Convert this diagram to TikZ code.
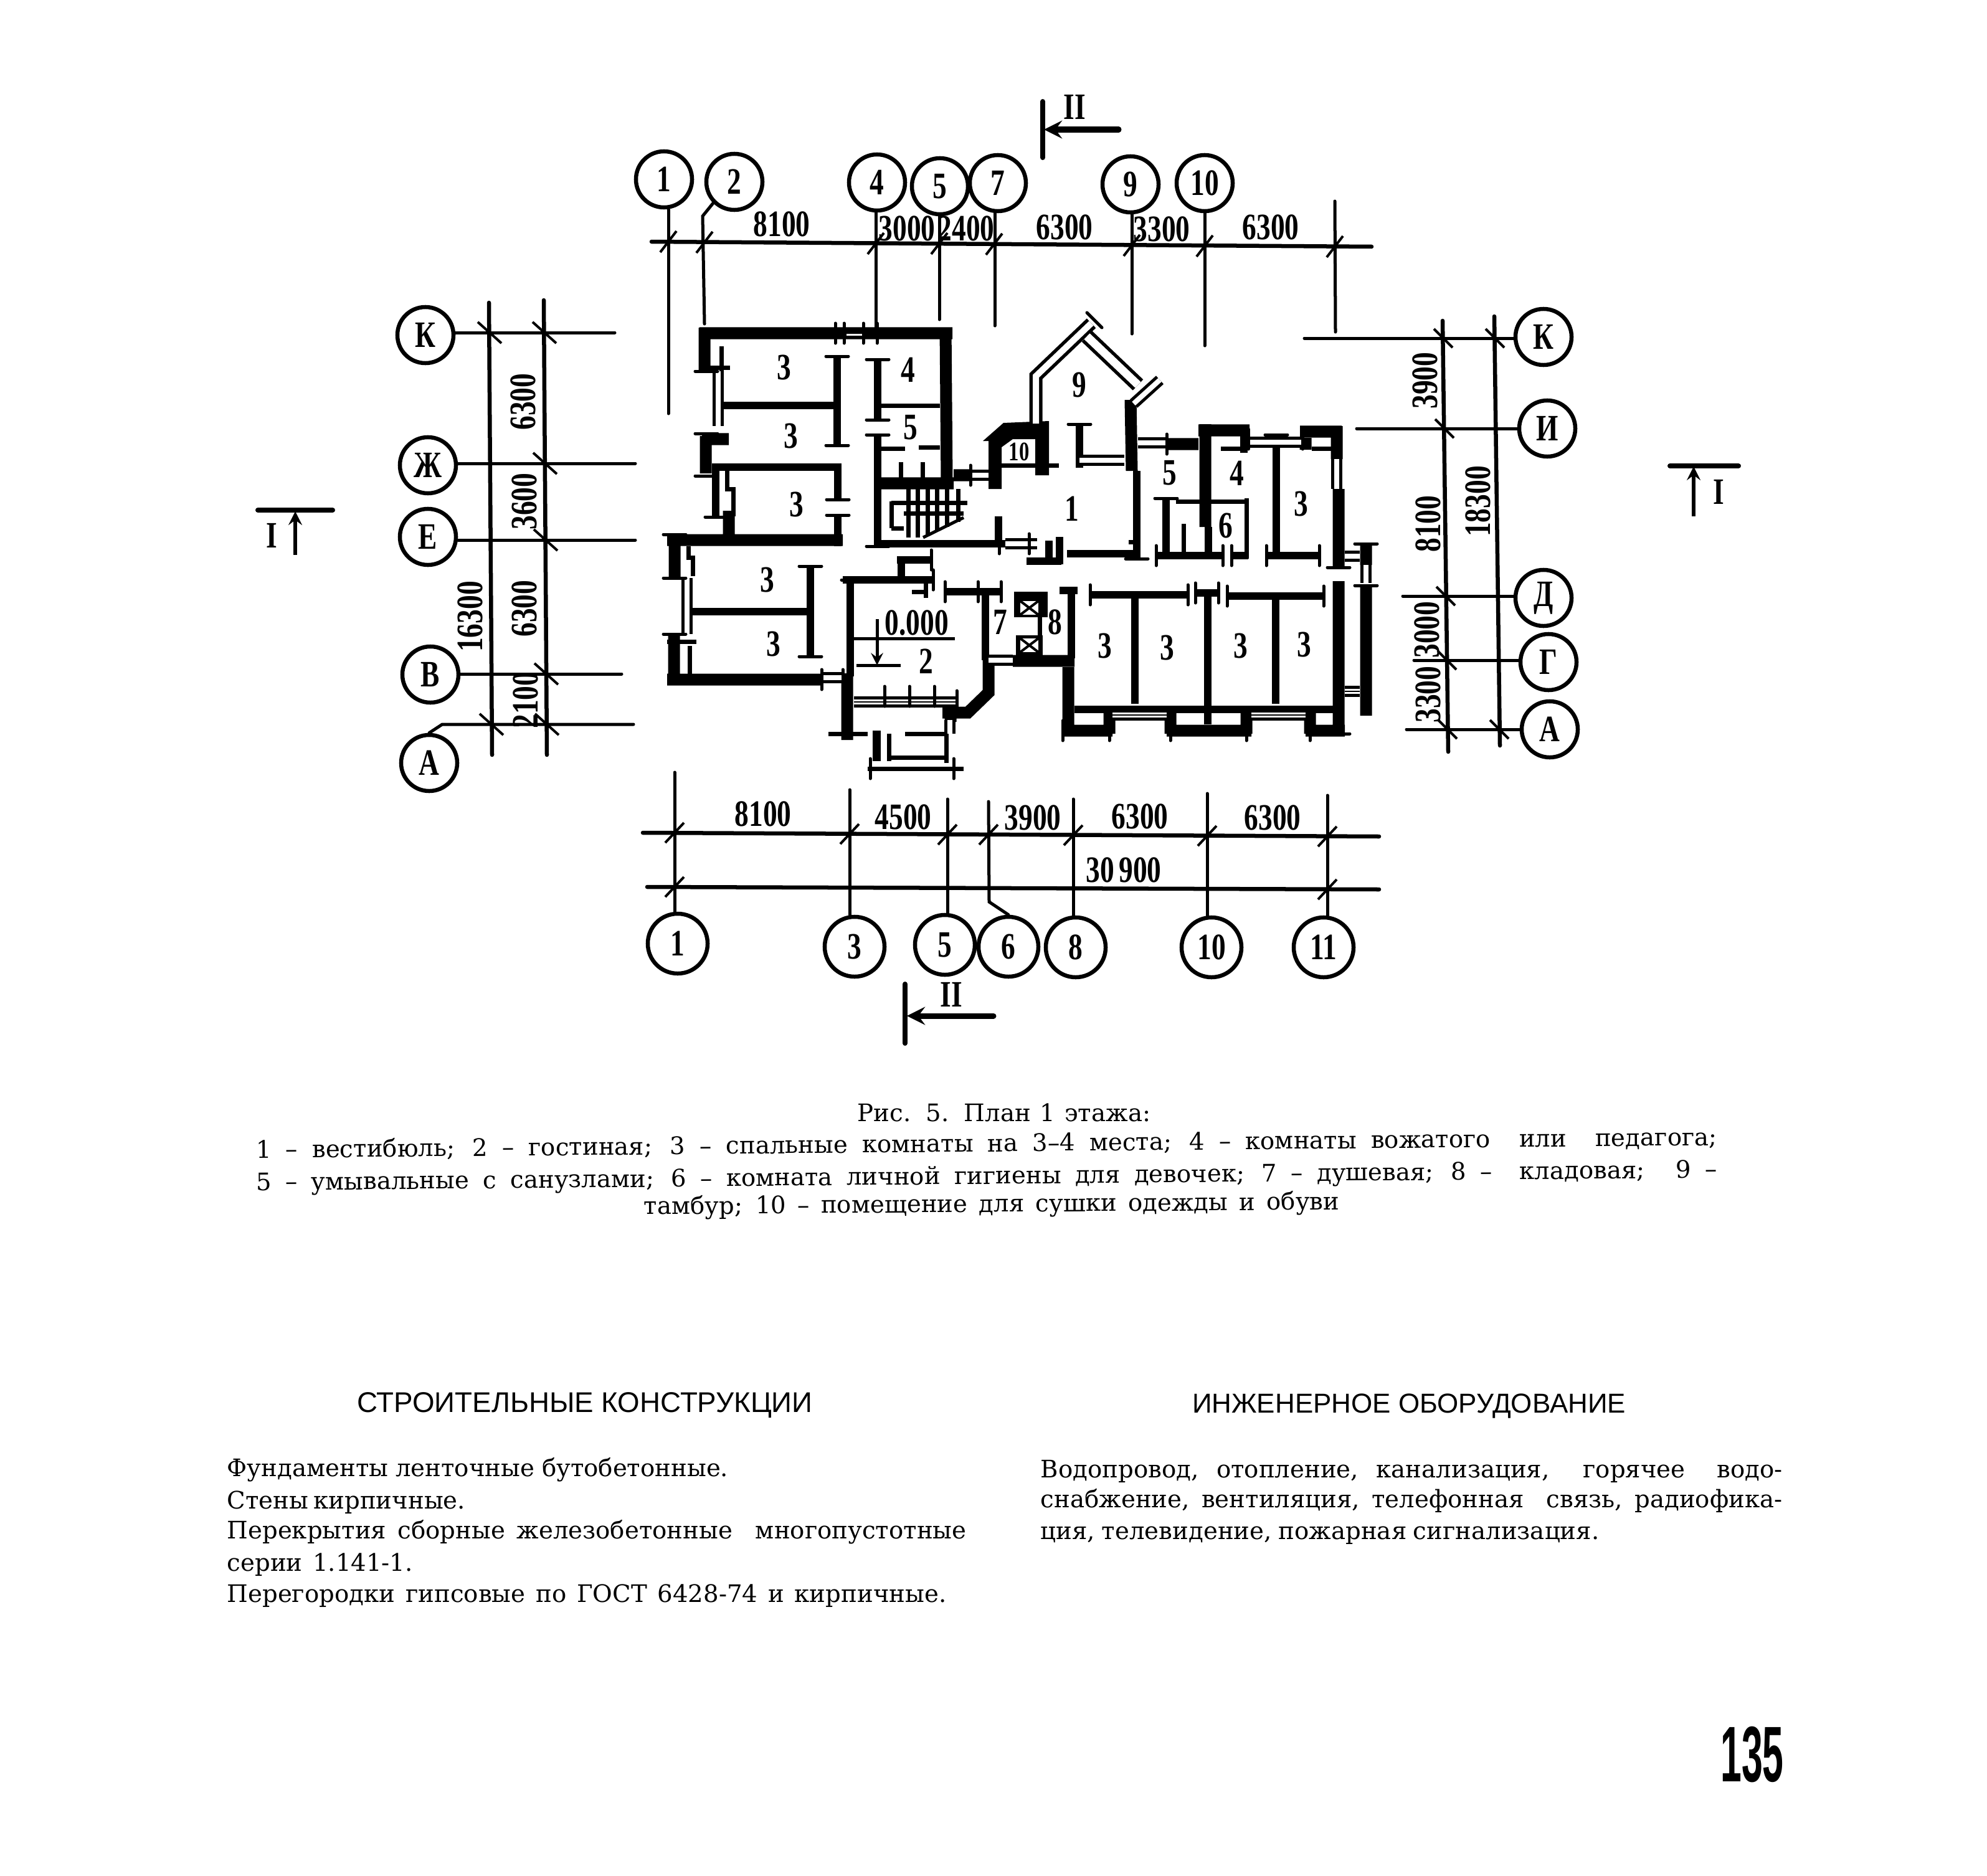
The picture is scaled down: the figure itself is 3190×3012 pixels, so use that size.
\documentclass[tikz,border=0pt]{standalone}
\usepackage{fontspec}
\setmainfont{DejaVu Serif}
\newfontfamily\numfont{Liberation Serif}
\newfontfamily\headfont{Liberation Sans}
\usepackage{tikz}
\usetikzlibrary{arrows,positioning}
\newcommand\nn[1]{\scalebox{0.76}[1]{\numfont\bfseries\fontsize{17}{17}\selectfont #1}}
\tikzset{axisnode/.style={circle,draw=black,line width=0.065cm,minimum size=0.9cm,inner sep=0pt}}
\tikzset{numlabel/.style={inner sep=0pt}}
\tikzset{dimline/.style={line width=0.065cm,line cap=round}}
\tikzset{extline/.style={line width=0.05cm,line cap=round}}
\tikzset{ticklin/.style={line width=0.04cm}}
\tikzset{sectline/.style={line width=0.08cm,line cap=round}}
\tikzset{sectarrow/.style={line width=0.09cm,<-,>=stealth}}
\tikzset{wall/.style={line width=0.19cm}}
\tikzset{parti/.style={line width=0.115cm}}
\tikzset{thinpart/.style={line width=0.07cm}}
\tikzset{serif/.style={line width=0.05cm,line cap=round}}
\tikzset{win/.style={line width=0.05cm,double=white,double distance=0.08cm}}
\tikzset{capline/.style={anchor=base,inner sep=0pt,font=\fontsize{11}{12}\selectfont}}
\tikzset{bodyline/.style={anchor=base west,inner sep=0pt,font=\fontsize{11}{12}\selectfont}}
\tikzset{headline/.style={inner sep=0pt,font=\headfont\fontsize{12.5}{13}\selectfont}}
\begin{document}
\begin{tikzpicture}[x=0.01cm,y=-0.01cm]
\useasboundingbox (0,0) rectangle (3190,3012);
% top axes
\foreach \ii/\xa/\ya/\xb/\yb in {1/1066/288/1073/664,4/1408/293/1406/525,5/1509/299/1508/513,7/1602/294/1597/523,9/1815/296/1817/536,10/1934/294/1934/555} {
	\node[axisnode] (top\ii) at (\xa,\ya) {\nn{\ii}};
	\coordinate (topend\ii) at (\xb,\yb);
	\draw[extline] (topend\ii) -- (topend\ii |- top\ii.south);
}
\node[axisnode] (top2) at (1179,292) {\nn{2}};
\coordinate (topend2) at (1131,520);
\draw[extline] (top2.south west) -- (1128,347) -- (topend2);
\coordinate (topfree) at (2143,323);
\coordinate (topfreeb) at (2144,533);
\draw[extline] (topfree) -- (topfreeb);
\coordinate (topdima) at (1046,388);
\coordinate (topdimb) at (2202,396);
\draw[dimline] (topdima) -- (topdimb);
\foreach \xx/\yy in {1073/388,1131/389,1406/391,1508/391,1596/392,1817/394,1934/395,2143/396}
	\draw[ticklin] (\xx-13,\yy+17) -- (\xx+13,\yy-17);
\foreach \tt/\xx/\yy in {8100/1255/360,3000/1456/367,2400/1551/367,6300/1709/365,3300/1865/368,6300/2040/365}
	\node[numlabel] (topnum\xx) at (\xx,\yy) {\nn{\tt}};
% bottom axes
\foreach \ii/\xa/\ya/\xb/\yb in {1/1088/1515/1083/1240,3/1372/1520/1364/1268,5/1517/1517/1521/1283,8/1727/1521/1723/1283,10/1945/1521/1938/1274,11/2125/1521/2131/1277} {
	\node[axisnode,minimum size=0.96cm] (bot\ii) at (\xa,\ya) {\nn{\ii}};
	\coordinate (botend\ii) at (\xb,\yb);
	\draw[extline] (botend\ii) -- (botend\ii |- bot\ii.north);
}
\node[axisnode,minimum size=0.96cm] (bot6) at (1619,1520) {\nn{6}};
\coordinate (botend6) at (1587,1287);
\draw[extline] (botend6) -- (1588,1448) -- (bot6.north);
\coordinate (botdima) at (1032,1337);
\coordinate (botdimb) at (2214,1343);
\coordinate (botdimc) at (1039,1424);
\coordinate (botdimd) at (2214,1428);
\draw[dimline] (botdima) -- (botdimb);
\draw[dimline] (botdimc) -- (botdimd);
\foreach \xx/\yy in {1083/1337,1364/1339,1521/1340,1587/1340,1723/1341,1938/1342,2131/1343,1083/1424,2131/1428}
	\draw[ticklin] (\xx-15,\yy+16) -- (\xx+15,\yy-16);
\foreach \tt/\xx/\yy in {8100/1225/1307,4500/1450/1312,3900/1658/1313,6300/1830/1311,6300/2043/1313,30\,900/1804/1397}
	\node[numlabel] at (\xx,\yy) {\nn{\tt}};
% left axes
\foreach \ii/\nm/\xa/\ya/\yy/\xb in {К/K/683/538/534/987,Ж/Z/687/747/744/1020,Е/E/687/862/867/1020,В/B/691/1083/1082/998} {
	\node[axisnode] (left\nm) at (\xa,\ya) {\nn{\ii}};
	\coordinate (leftend\nm) at (\xb,\yy);
	\draw[extline] (leftend\nm) -- (leftend\nm -| left\nm.east);
}
\node[axisnode] (leftA) at (689,1225) {\nn{А}};
\coordinate (leftendA) at (1017,1163);
\draw[extline] (leftA.north) -- (710,1163) -- (leftendA);
\coordinate (lefta) at (785,486);
\coordinate (leftb) at (790,1212);
\coordinate (leftc) at (873,482);
\coordinate (leftd) at (878,1212);
\draw[dimline] (lefta) -- (leftb);
\draw[dimline] (leftc) -- (leftd);
\foreach \xx/\yy in {786/534,789/1163,874/534,875/744,876/867,877/1082,878/1163}
	\draw[ticklin] (\xx-19,\yy-17) -- (\xx+19,\yy+17);
\foreach \tt/\xx/\yy in {6300/840/645,3600/842/805,6300/842/977,2100/844/1124,16300/755/990}
	\node[numlabel,rotate=90] at (\xx,\yy) {\nn{\tt}};
% right axes
\foreach \ii/\nm/\xa/\ya/\yy/\xb in {К/K/2478/541/543/2094,И/I/2484/688/688/2178,Д/D/2478/960/957/2252,Г/G/2486/1063/1060/2270,А/A/2488/1171/1171/2258} {
	\node[axisnode] (right\nm) at (\xa,\ya) {\nn{\ii}};
	\coordinate (rightend\nm) at (\xb,\yy);
	\draw[extline] (rightend\nm) -- (rightend\nm -| right\nm.west);
}
\coordinate (righta) at (2316,515);
\coordinate (rightb) at (2325,1207);
\coordinate (rightc) at (2399,508);
\coordinate (rightd) at (2408,1197);
\draw[dimline] (righta) -- (rightb);
\draw[dimline] (rightc) -- (rightd);
\foreach \xx/\yy in {2317/543,2319/688,2321/957,2323/1060,2324/1171,2400/543,2407/1171}
	\draw[ticklin] (\xx-15,\yy-15) -- (\xx+15,\yy+15);
\foreach \tt/\xx/\yy in {3900/2288/611,8100/2293/841,3000/2291/1011,3300/2293/1115,18300/2373/805}
	\node[numlabel,rotate=90] at (\xx,\yy) {\nn{\tt}};
% section marks
\draw[sectline] (1674,163) -- (1674,253);
\draw[sectarrow,line cap=round] (1676,208) -- (1796,208);
\node[numlabel] at (1725,172) {\nn{II}};
\draw[sectline] (1453,1580) -- (1453,1675);
\draw[sectarrow,line cap=round] (1456,1631) -- (1595,1631);
\node[numlabel] at (1527,1597) {\nn{II}};
\draw[sectline] (414,819) -- (534,819);
\draw[line width=0.06cm,<-,>=stealth] (474,821) -- (474,891);
\node[numlabel] at (436,860) {\nn{I}};
\draw[sectline] (2681,748) -- (2791,748);
\draw[line width=0.06cm,<-,>=stealth] (2719,749) -- (2719,829);
\node[numlabel] at (2759,790) {\nn{I}};
% heavy walls
\draw[wall] (1123,535) -- (1529,535) (1518,526) -- (1520,771) (1131,526) -- (1131,596)
	(1127,705) -- (1170,705) (1133,700) -- (1133,760) (1170,820) -- (1170,863)
	(1071,867) -- (1353,867) (1083,858) -- (1083,928) (1082,1018) -- (1082,1100)
	(1071,1091) -- (1319,1091) (1413,776) -- (1531,776) (1531,763) -- (1558,763)
	(1360,1081) -- (1360,1188) (1587,1060) -- (1587,1112) -- (1554,1144) -- (1513,1144)
	(1526,1134) -- (1526,1159) (1815,642) -- (1817,756) (1873,713) -- (1924,713)
	(1924,691) -- (2006,691) (1935,681) -- (1935,846) (2087,693) -- (2154,693)
	(2096,703) -- (2096,722) (2146,684) -- (2146,737) (2149,785) -- (2149,911)
	(2149,933) -- (2149,1178) (2193,873) -- (2193,907) (2193,940) -- (2193,1149)
	(1715,1071) -- (1715,1173) (1626,1061) -- (1725,1061) (1706,1173) -- (1786,1173)
	(1873,1173) -- (2009,1173) (2096,1173) -- (2159,1173) (1781,1134) -- (1781,1178)
	(1879,1134) -- (1879,1178) (2001,1134) -- (2001,1178) (2103,1134) -- (2103,1178);
\fill (1578,708) -- (1611,679) -- (1684,676) -- (1684,763) -- (1662,763) -- (1662,705)
	-- (1626,705) -- (1608,718) -- (1608,785) -- (1587,785) -- (1587,708) -- cycle;
% partitions
\draw[parti] (1149,756) -- (1149,829) (1143,750) -- (1348,750) (1154,651) -- (1344,651)
	(1344,572) -- (1344,715) (1345,744) -- (1345,802) (1345,827) -- (1345,877)
	(1409,577) -- (1409,674) (1409,698) -- (1409,877) (1404,873) -- (1614,873)
	(1112,982) -- (1297,982) (1301,909) -- (1301,1054) (1365,931) -- (1365,1086)
	(1353,931) -- (1498,931) (1447,897) -- (1447,928) (1440,899) -- (1495,899)
	(1517,950) -- (1607,950) (1582,953) -- (1582,1060) (1733,681) -- (1733,751)
	(1603,829) -- (1603,868) (1713,889) -- (1830,889) (1825,756) -- (1825,897)
	(1648,901) -- (1704,901) (1684,868) -- (1684,906) (1701,862) -- (1701,906)
	(1940,846) -- (1940,897) (2049,698) -- (2049,897) (2033,892) -- (2118,892)
	(1856,892) -- (1963,892) (1977,892) -- (2004,892) (1872,800) -- (1872,892)
	(1720,950) -- (1720,1057) (1701,948) -- (1730,948) (1822,960) -- (1822,1130)
	(1939,952) -- (1939,1163) (2048,957) -- (2048,1130) (1750,955) -- (1907,955)
	(1919,952) -- (1956,952) (1970,957) -- (2125,957) (1725,1139) -- (2140,1139)
	(1997,698) -- (1997,727);
\draw[thinpart] (1415,651) -- (1509,651) (1415,720) -- (1453,720) (1475,718) -- (1509,718)
	(1446,742) -- (1446,768) (1481,742) -- (1481,768) (1888,805) -- (2002,805)
	(2001,800) -- (2001,897) (1900,841) -- (1900,892) (1669,989) -- (1669,1020)
	(1486,931) -- (1486,960) (1464,950) -- (1489,950) (1608,747) -- (1700,747)
	(1158,556) -- (1158,600) (1139,590) -- (1172,590) (1167,756) -- (1167,785) -- (1177,785) -- (1177,829)
	(1105,877) -- (1105,895) -- (1112,895) -- (1112,925) (1071,1030) -- (1118,1030)
	(1107,1037) -- (1107,1083) (1404,1173) -- (1404,1222) (1410,1173) -- (1410,1222)
	(1427,1178) -- (1427,1222) (1519,1173) -- (1519,1225) (1393,1234) -- (1547,1234)
	(1330,1178) -- (1393,1178) (1453,1178) -- (1522,1178) (1427,1216) -- (1520,1216)
	(1960,720) -- (2000,720) (2106,720) -- (2140,720) (1812,870) -- (1830,870);
% windows
\draw[win] (1153,596) -- (1153,684);
\draw[win] (1103,928) -- (1103,1018);
\draw[win] (1319,1088) -- (1352,1088);
\draw[win] (1558,763) -- (1587,763);
\draw[win] (1614,873) -- (1665,873);
\draw[win] (1371,1127) -- (1536,1127);
\draw[win] (1827,711) -- (1873,711);
\draw[win] (2004,710) -- (2091,710);
\draw[win] (2146,737) -- (2146,785);
\draw[win] (1733,739) -- (1805,739);
\draw[win] (1587,1060) -- (1626,1060);
\draw[win] (1786,1148) -- (1873,1148);
\draw[win] (2009,1148) -- (2096,1148);
\draw[win] (2159,893) -- (2183,893);
\draw[win] (2159,1110) -- (2183,1110);
\draw[win] (2193,907) -- (2193,936);
\draw[win] (1525,1156) -- (1525,1178);
\draw[win,line width=0.055cm,double distance=0.1cm] (1663,680) -- (1663,604) -- (1752,519);
\draw[win,line width=0.055cm,double distance=0.13cm] (1745,540) -- (1827,618);
\draw[win] (1820,648) -- (1862,610);
\draw[white,line width=0.03cm] (1359,537) -- (1384,537);
\draw[line width=0.025cm] (1371,1127) -- (1536,1127) (1786,1148) -- (1873,1148) (2009,1148) -- (2096,1148) (2159,1110) -- (2183,1110);
% serifs on wall ends
\foreach \xx/\yy in {1344/572,1344/715,1345/802,1345/827,1409/577,1409/674,1409/698,1301/909,1301/1054,1150/830,1083/928,1083/1018,1134/596,1134/696,1134/764,1733/681,1872/800,2049/698,1083/858,1409/877,1825/897,1369/931,2193/873,2193/940,2149/911,2149/1178}
	\draw[serif] (\xx-18,\yy) -- (\xx+18,\yy);
\foreach \xx/\yy in {1341/535,1355/535,1386/535,1408/535,1517/950,1607/950,1570/950,1498/931,1495/899,1750/955,1907/955,1919/952,1956/952,1970/957,2125/957,2033/892,2118/892,1856/892,1963/892,1977/892,1604/873,1652/873,1319/1091,1353/1091,1558/763,2004/705,2091/705,1873/713,1781/1173,1879/1173,2001/1173,2103/1173,1706/1173,1420/1118,1460/1118,1500/1118,1536/1125,1397/1234,1531/1234}
	\draw[serif] (\xx,\yy-16) -- (\xx,\yy+16);
\draw[serif] (1745,502) -- (1769,526);
% stairs
\foreach \xx/\yy in {1458/863,1473/863,1489/860,1504/853,1520/846,1538/838}
	\draw[thinpart] (\xx,785) -- (\xx,\yy);
\draw[thinpart] (1431,807) -- (1553,807) (1431,848) -- (1451,848) (1431,805) -- (1431,848) (1451,824) -- (1547,824);
\draw[line width=0.05cm] (1482,863) -- (1547,831);
% shafts
\fill (1628,950) rectangle (1682,991);
\fill (1631,1020) rectangle (1674,1052);
\foreach \xx/\yy/\xb/\yb in {1638/965/1667/987,1638/1025/1667/1047} {
	\fill[white] (\xx,\yy) rectangle (\xb,\yb);
	\draw[line width=0.04cm] (\xx,\yy) -- (\xb,\yb) (\xx,\yb) -- (\xb,\yy);
}
% level mark
\draw[line width=0.05cm] (1371,1025) -- (1533,1025) (1375,1068) -- (1446,1068);
\draw[line width=0.05cm,->,>=stealth] (1408,994) -- (1408,1068);
\node[numlabel] (level) at (1472,1000) {\nn{0.000}};
% room numbers
\foreach \tt/\xx/\yy in {3/1259/590,3/1270/700,3/1279/810,3/1232/931,3/1242/1034,4/1458/594,5/1462/686,9/1733/618,1/1721/817,5/1878/759,4/1986/760,6/1968/844,3/2089/809,3/1774/1037,3/1874/1040,3/1992/1037,3/2094/1035,2/1487/1062,7/1606/999,8/1694/999}
	\node[numlabel] (room\xx) at (\xx,\yy) {\nn{\tt}};
\node[numlabel] (roomten) at (1636,725) {\scalebox{0.72}{\nn{10}}};
% caption
\node[capline] (cap0) at (1612,1800) {\makebox[4.7cm][s]{Рис. 5. План 1 этажа:}};
\node[capline,rotate=0.5] (cap1) at (1584,1849) {\makebox[23.44cm][s]{1 – вестибюль; 2 – гостиная; 3 – спальные комнаты на 3–4 места; 4 – комнаты вожатого \ или \ педагога;}};
\node[capline,rotate=0.5] (cap2) at (1584,1901) {\makebox[23.44cm][s]{5 – умывальные с санузлами; 6 – комната личной гигиены для девочек; 7 – душевая; 8 – \ кладовая; \ 9 –}};
\node[capline,rotate=0.4] (cap3) at (1592,1946) {\makebox[11.16cm][s]{тамбур; 10 – помещение для сушки одежды и обуви}};
% text columns
\node[headline,font=\headfont\fontsize{13}{13}\selectfont] (headl) at (939,2256) {СТРОИТЕЛЬНЫЕ КОНСТРУКЦИИ};
\node[headline] (headr) at (2262,2258) {ИНЖЕНЕРНОЕ ОБОРУДОВАНИЕ};
\foreach \tt/\ww/\yy in {{Фундаменты ленточные бутобетонные.}/8.04/2370,{Стены кирпичные.}/3.78/2422,{Перекрытия сборные железобетонные \ многопустотные}/11.86/2470,{серии 1.141-1.}/2.98/2522,{Перегородки гипсовые по ГОСТ 6428-74 и кирпичные.}/11.54/2572}
	\node[bodyline] at (364,\yy) {\makebox[\ww cm][s]{\tt}};
\foreach \tt/\ww/\yy in {{Водопровод, отопление, канализация, \ горячее \ водо-}/11.9/2372,{снабжение, вентиляция, телефонная \ связь, радиофика-}/11.9/2420,{ция, телевидение, пожарная сигнализация.}/8.96/2471}
	\node[bodyline] at (1670,\yy) {\makebox[\ww cm][s]{\tt}};
% page number
\node[inner sep=0pt] (pagenum) at (2813,2817) {\scalebox{0.48}[1]{\headfont\bfseries\fontsize{36}{36}\selectfont 135}};
\end{tikzpicture}
\end{document}
